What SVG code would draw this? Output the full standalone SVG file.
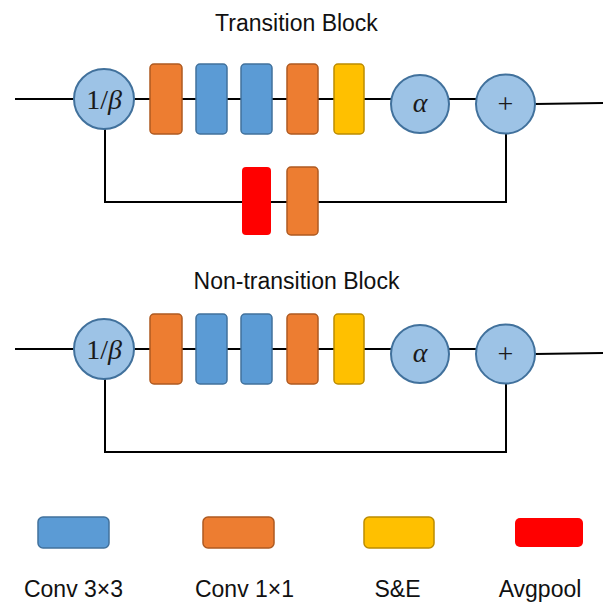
<svg xmlns="http://www.w3.org/2000/svg" width="603" height="603" viewBox="0 0 603 603">
<defs>
<style>
.ln{fill:none;stroke:#000;stroke-width:2}
.cir{fill:#9DC3E6;stroke:#41719C;stroke-width:2}
.or{fill:#ED7D31;stroke:#AE5A21;stroke-width:1.5}
.bl{fill:#5B9BD5;stroke:#41719C;stroke-width:1.5}
.ye{fill:#FFC000;stroke:#BC8C00;stroke-width:1.5}
.rd{fill:#FF0000;stroke:none}
.title{font-family:"Liberation Sans",Arial,sans-serif;font-size:23px;fill:#111;text-anchor:middle}
.lg{font-family:"Liberation Sans",Arial,sans-serif;font-size:23px;fill:#111;text-anchor:middle}
.math{font-family:"Liberation Serif","DejaVu Serif",serif;font-size:28px;fill:#1a1a1a;text-anchor:middle}
</style>
</defs>
<rect width="603" height="603" fill="#fff"/>

<text class="title" x="296.5" y="31">Transition Block</text>
<text class="title" x="296.5" y="289">Non-transition Block</text>

<g id="connectors">
<path class="ln" d="M15 99 H74"/>
<path class="ln" d="M134 99 H391"/>
<path class="ln" d="M449 99 H476"/>
<path class="ln" d="M535 104 L603 103"/>
<path class="ln" d="M105 129 V202 H506 V134"/>
<path class="ln" d="M15 349 H74"/>
<path class="ln" d="M134 349 H391"/>
<path class="ln" d="M449 349 H476"/>
<path class="ln" d="M535 354 L603 353"/>
<path class="ln" d="M105 379 V452 H506 V384"/>
</g>

<g id="t-beta"><circle class="cir" cx="104" cy="99" r="30"/><text class="math" x="104" y="109">1/<tspan font-style="italic">β</tspan></text></g>
<g id="t-conv1a"><rect class="or" x="150" y="64" width="32" height="70" rx="4"/></g>
<g id="t-conv3a"><rect class="bl" x="196" y="64" width="31" height="70" rx="4"/></g>
<g id="t-conv3b"><rect class="bl" x="241" y="64" width="31" height="70" rx="4"/></g>
<g id="t-conv1b"><rect class="or" x="287" y="64" width="31" height="70" rx="4"/></g>
<g id="t-se"><rect class="ye" x="334" y="64" width="30" height="70" rx="4"/></g>
<g id="t-alpha"><circle class="cir" cx="420" cy="104" r="29"/><text class="math" x="420" y="112" font-style="italic">α</text></g>
<g id="t-plus"><circle class="cir" cx="505.5" cy="104" r="29.5"/><text class="math" x="505.5" y="113">+</text></g>
<g id="t-avgpool"><rect class="rd" x="242" y="167" width="29" height="68" rx="4"/></g>
<g id="t-conv1c"><rect class="or" x="287" y="167" width="31" height="68" rx="4"/></g>

<g id="n-beta"><circle class="cir" cx="104" cy="349" r="30"/><text class="math" x="104" y="359">1/<tspan font-style="italic">β</tspan></text></g>
<g id="n-conv1a"><rect class="or" x="150" y="314" width="32" height="70" rx="4"/></g>
<g id="n-conv3a"><rect class="bl" x="196" y="314" width="31" height="70" rx="4"/></g>
<g id="n-conv3b"><rect class="bl" x="241" y="314" width="31" height="70" rx="4"/></g>
<g id="n-conv1b"><rect class="or" x="287" y="314" width="31" height="70" rx="4"/></g>
<g id="n-se"><rect class="ye" x="334" y="314" width="30" height="70" rx="4"/></g>
<g id="n-alpha"><circle class="cir" cx="420" cy="354" r="29"/><text class="math" x="420" y="362" font-style="italic">α</text></g>
<g id="n-plus"><circle class="cir" cx="505.5" cy="354" r="29.5"/><text class="math" x="505.5" y="363">+</text></g>

<g id="legend-conv3"><rect class="bl" x="38" y="517" width="71" height="31" rx="5"/><text class="lg" x="73.5" y="597">Conv 3×3</text></g>
<g id="legend-conv1"><rect class="or" x="203" y="517" width="71" height="31" rx="5"/><text class="lg" x="244.5" y="597">Conv 1×1</text></g>
<g id="legend-se"><rect class="ye" x="364" y="517" width="70" height="31" rx="5"/><text class="lg" x="397.5" y="597">S&amp;E</text></g>
<g id="legend-avgpool"><rect class="rd" x="515" y="518" width="68" height="29" rx="5"/><text class="lg" x="540" y="597">Avgpool</text></g>
</svg>
